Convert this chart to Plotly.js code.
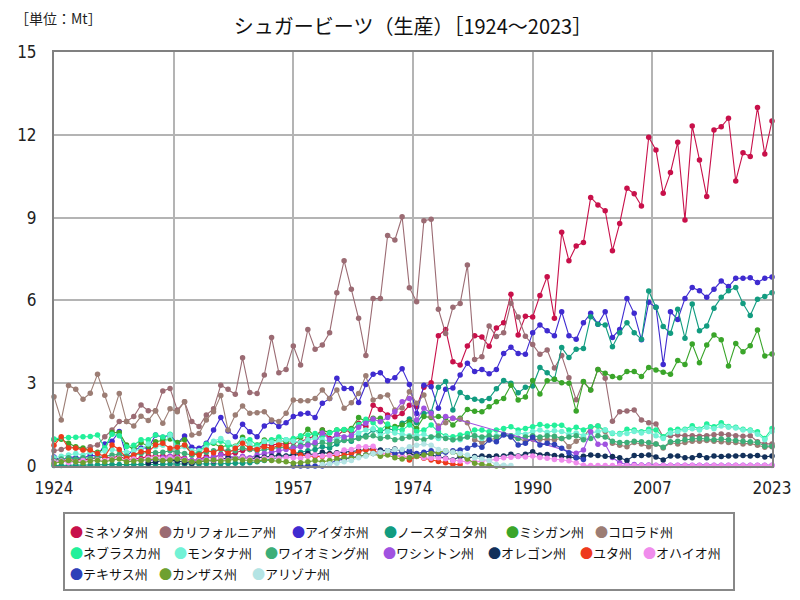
<!DOCTYPE html>
<html><head><meta charset="utf-8">
<script src="https://cdn.plot.ly/plotly-3.0.1.min.js"></script>
<style>html,body{margin:0;padding:0;background:#fff}#chart{width:800px;height:600px}</style>
</head><body><div id="chart"></div>
<script>
// ---------- data (Mt) ----------
const startYear = 1924, endYear = 2023;
const years = []; for (let y = startYear; y <= endYear; y++) years.push(y);
const N = null;

const minnesota = [
0.25,0.22,0.20,0.24,0.22,0.25,0.30,0.32,0.28,0.38,
0.22,0.27,0.27,0.36,0.36,0.36,0.34,0.36,0.28,0.19,
0.24,0.34,0.28,0.43,0.40,0.48,0.56,0.60,0.64,0.76,
0.76,0.80,0.80,0.85,0.88,1.00,1.09,1.30,1.00,1.09,
1.30,1.24,1.55,1.43,2.20,2.05,1.85,1.78,1.90,2.20,
2.15,2.85,3.02,4.72,4.95,3.78,3.66,4.35,4.72,4.67,
4.34,5.00,5.19,6.22,4.75,5.43,5.40,6.18,6.86,5.35,
8.47,7.44,7.97,8.10,9.73,9.46,9.25,7.80,8.79,10.06,
9.86,9.42,11.91,11.45,9.88,10.63,11.73,8.91,12.32,11.09,
9.76,12.17,12.29,12.60,10.33,11.35,11.21,12.99,11.30,12.50];

const california = [
0.55,0.60,0.70,0.65,0.60,0.70,0.76,1.06,1.30,1.61,
1.61,1.79,2.21,2.00,2.00,2.72,2.81,2.03,2.33,1.61,
1.43,1.85,2.07,2.93,2.78,2.60,3.92,2.66,2.63,3.30,
4.66,3.38,3.50,4.35,3.66,4.95,4.23,4.38,4.83,6.28,
7.44,6.40,5.35,4.00,6.07,6.07,8.35,8.19,9.03,6.46,
5.95,8.89,8.94,5.68,4.80,5.75,5.89,7.28,3.86,3.96,
5.07,4.69,4.83,5.90,5.40,4.70,4.40,4.05,4.20,3.55,
4.00,3.20,2.40,3.05,2.75,3.50,3.18,1.62,1.97,1.99,
2.03,1.67,1.57,1.52,1.05,1.10,1.12,1.10,1.10,1.08,
1.10,1.13,1.16,1.13,1.10,1.08,1.10,0.88,0.80,0.80];

const idaho = [
0.33,0.20,0.33,0.30,0.28,0.40,0.35,0.80,0.90,1.25,
0.35,0.60,0.65,0.65,1.12,1.04,1.12,0.82,1.09,0.68,
0.64,0.82,1.30,1.76,1.27,1.06,1.51,1.24,1.06,1.45,
1.61,1.43,1.57,1.79,1.88,1.91,1.76,2.27,2.45,3.18,
2.81,2.81,2.30,2.95,3.32,3.38,3.09,3.20,3.52,2.95,
1.90,2.93,2.87,2.09,2.78,2.83,3.30,3.72,3.42,3.50,
3.34,3.50,4.08,4.30,4.08,4.05,4.83,5.11,4.90,4.72,
5.59,4.72,4.59,5.19,5.53,5.14,5.59,4.66,4.95,6.07,
5.53,4.57,5.93,5.75,3.68,5.59,5.31,6.07,6.47,6.35,
6.11,6.40,6.70,6.50,6.80,6.80,6.82,6.65,6.80,6.85];

const northDakota = [
0.02,0.02,0.03,0.03,0.03,0.04,0.04,0.05,0.05,0.05,
0.04,0.05,0.05,0.06,0.06,0.06,0.07,0.07,0.06,0.06,
0.07,0.08,0.08,0.08,0.09,0.10,0.10,0.12,0.15,0.20,
0.25,0.30,0.35,0.45,0.50,0.55,0.60,0.70,0.65,0.80,
0.95,0.90,1.05,1.10,1.30,1.25,1.35,1.30,1.55,1.70,
1.57,1.90,1.95,2.85,3.06,2.03,2.66,2.48,2.42,2.36,
2.45,2.80,3.10,3.00,2.65,2.85,2.90,3.57,3.38,3.14,
4.29,3.93,4.23,4.26,5.41,5.14,5.11,4.32,4.83,5.19,
4.83,4.59,6.34,5.75,5.05,4.81,5.68,4.63,5.87,4.90,
5.07,5.72,6.11,6.35,6.47,5.89,5.45,6.04,6.14,6.28];

const michigan = [
0.95,0.97,0.82,0.70,0.65,0.55,0.50,0.62,1.21,1.21,
0.76,0.60,0.85,0.72,0.88,0.94,0.98,0.85,0.95,0.40,
0.46,0.76,0.82,0.68,0.76,0.72,1.04,0.70,0.76,0.94,
0.92,0.94,0.88,0.94,1.04,1.33,1.06,1.30,1.21,1.30,
1.30,1.36,1.76,1.61,1.73,1.73,1.43,1.43,1.49,1.61,
1.36,1.79,1.76,1.79,1.75,1.49,1.73,2.05,1.98,1.97,
2.15,2.33,2.45,2.93,2.39,2.50,3.10,2.61,3.09,3.14,
3.02,3.00,1.99,3.06,2.75,3.50,3.36,3.24,3.20,3.42,
3.42,3.24,3.57,3.48,3.40,3.32,3.82,3.68,4.42,3.74,
4.38,4.75,4.57,3.62,4.44,4.14,4.36,4.93,3.99,4.06];

const colorado = [
2.51,1.67,2.92,2.78,2.42,2.64,3.32,2.56,1.79,2.63,
1.61,1.45,1.80,1.65,2.00,1.55,2.07,1.97,2.33,1.12,
1.18,1.67,1.97,2.55,1.30,1.85,2.17,1.91,1.93,1.97,
1.67,1.61,1.91,2.39,2.36,2.36,2.45,2.75,2.45,2.75,
2.09,2.29,2.63,3.27,2.39,2.51,2.57,2.03,2.10,2.69,
2.27,2.57,1.79,1.45,1.57,1.73,1.69,1.57,0.95,0.85,
0.95,1.00,1.15,1.05,1.00,0.90,0.97,0.97,0.95,0.95,
1.00,0.70,0.90,1.04,1.40,1.45,1.25,0.82,0.75,0.70,
0.85,0.80,0.70,0.80,0.65,0.85,0.80,0.85,0.90,0.90,
0.92,0.90,0.88,0.85,0.85,0.80,0.82,0.75,0.68,0.70];

const nebraska = [
0.98,1.02,1.03,1.04,1.06,1.07,1.12,0.65,1.15,1.10,
0.70,0.75,0.95,0.95,1.12,1.05,1.15,0.70,0.75,0.45,
0.50,0.80,0.85,0.90,0.75,0.68,0.95,0.95,0.75,0.88,
0.95,1.05,0.95,1.00,1.10,1.12,1.18,1.10,1.20,1.30,
1.32,1.30,1.50,1.69,1.57,1.30,1.52,1.36,1.30,1.49,
1.25,1.30,1.49,1.24,1.09,1.06,1.12,1.18,1.30,1.30,
1.24,1.30,1.36,1.42,1.30,1.36,1.42,1.50,1.45,1.48,
1.48,1.30,1.40,1.30,1.42,1.45,1.30,1.18,1.18,1.33,
1.30,1.24,1.33,1.30,1.06,1.30,1.33,1.33,1.46,1.33,
1.52,1.42,1.57,1.43,1.40,1.33,1.30,1.24,1.00,1.36];

const montana = [
0.30,0.35,0.40,0.45,0.40,0.50,0.45,0.55,0.60,0.55,
0.50,0.55,0.60,0.80,0.70,0.75,1.12,0.60,0.70,0.55,
0.55,0.65,0.90,1.00,0.85,0.70,0.95,0.80,0.65,0.90,
0.85,0.90,0.95,0.90,0.85,0.95,1.00,0.95,0.90,1.00,
1.05,1.10,1.20,1.30,1.35,1.10,1.25,1.20,1.15,1.10,
1.10,1.15,1.05,1.00,1.05,0.95,0.95,1.05,1.10,1.00,
1.05,1.10,1.15,1.10,1.20,1.15,1.25,1.30,1.22,1.28,
1.25,1.15,1.20,1.10,1.20,1.25,1.30,1.20,1.15,1.18,
1.25,1.20,1.25,1.10,1.00,1.20,1.25,1.30,1.35,1.30,
1.40,1.35,1.45,1.40,1.38,1.30,1.28,1.15,0.95,1.25];

const wyoming = [
0.20,0.25,0.30,0.25,0.30,0.28,0.30,0.35,0.40,0.42,
0.35,0.40,0.45,0.50,0.48,0.50,0.55,0.50,0.45,0.40,
0.45,0.50,0.55,0.60,0.55,0.55,0.65,0.60,0.55,0.60,
0.62,0.68,0.65,0.70,0.75,0.80,0.78,0.85,0.80,0.90,
0.92,0.95,1.00,1.05,1.10,1.00,1.05,0.95,1.00,1.05,
1.00,0.95,1.05,1.10,1.00,0.95,1.00,1.05,1.10,1.05,
1.10,1.05,1.15,1.10,1.00,1.05,1.10,1.05,1.10,1.08,
1.00,1.05,1.10,0.95,1.00,1.10,1.05,0.90,0.85,0.85,
0.90,0.88,0.85,0.80,0.68,0.88,0.90,0.95,0.98,1.00,
0.98,0.95,0.98,0.95,0.92,0.90,0.88,0.85,0.72,0.72];

const washington = [
N,N,N,N,N,N,N,N,N,N,
N,N,N,0.15,0.25,0.30,0.35,0.30,0.25,0.20,
0.22,0.28,0.35,0.40,0.38,0.30,0.35,0.30,0.40,0.45,
0.50,0.55,0.60,0.65,0.70,0.75,0.85,1.20,0.95,1.15,
1.05,1.10,1.40,1.55,1.70,1.60,1.76,1.97,2.33,2.45,
1.67,2.09,1.91,1.36,1.79,1.73,N,N,N,N,
N,N,N,N,N,N,N,N,N,N,
N,N,0.46,0.58,1.24,0.79,0.79,0.31,0.12,0.05,
0.05,0.04,0.04,0.03,0.03,0.03,0.03,0.03,0.03,0.03,
0.03,0.03,0.03,0.03,0.03,0.03,0.03,0.03,0.03,0.03];

const oregon = [
N,N,N,N,N,N,N,N,N,N,
N,N,N,0.10,0.15,0.20,0.22,0.18,0.12,0.10,
0.15,0.20,0.18,0.25,0.30,0.28,0.30,0.25,0.30,0.32,
0.35,0.38,0.36,0.40,0.42,0.45,0.40,0.50,0.45,0.48,
0.50,0.52,0.55,0.60,0.62,0.58,0.55,0.62,0.55,0.45,
0.36,0.46,0.40,0.36,0.28,0.22,0.34,0.28,0.34,0.36,
0.34,0.36,0.36,0.43,0.36,0.43,0.52,0.40,0.42,0.38,
0.36,0.33,0.30,0.35,0.40,0.38,0.35,0.34,0.30,0.20,
0.38,0.38,0.40,0.33,0.22,0.36,0.36,0.30,0.30,0.38,
0.30,0.36,0.34,0.36,0.36,0.38,0.36,0.38,0.33,0.36];

const utah = [
0.75,1.06,0.65,0.65,0.58,0.58,0.45,0.34,0.76,0.60,
0.28,0.40,0.52,0.52,0.76,0.82,0.64,0.68,0.76,0.46,
0.40,0.58,0.48,0.64,0.46,0.64,0.82,0.64,0.60,0.70,
0.64,0.76,0.70,0.52,0.40,0.36,0.34,0.34,0.40,0.36,
0.40,0.44,0.52,0.58,0.58,0.43,0.46,0.40,0.34,0.22,
0.34,0.28,0.22,0.16,0.12,0.06,0.05,N,N,N,
N,N,N,N,N,N,N,N,N,N,
N,N,N,N,N,N,N,N,N,N,
N,N,N,N,N,N,N,N,N,N,
N,N,N,N,N,N,N,N,N,N];

const ohio = [
0.15,0.18,0.12,0.15,0.20,0.18,0.22,0.20,0.25,0.28,
0.18,0.25,0.22,0.28,0.30,0.25,0.30,0.28,0.22,0.15,
0.18,0.22,0.20,0.25,0.22,0.28,0.30,0.25,0.22,0.28,
0.30,0.28,0.32,0.30,0.28,0.36,0.40,0.36,0.38,0.45,
0.58,0.60,0.70,0.70,0.72,0.48,0.43,0.42,0.34,0.34,
0.36,0.30,0.28,0.30,0.26,0.20,0.18,0.15,0.15,0.18,
0.20,0.25,0.30,0.32,0.34,0.33,0.36,0.31,0.28,0.24,
0.22,0.19,0.12,0.03,0.02,0.02,0.02,0.02,0.02,0.02,
0.02,0.02,0.02,0.02,0.02,0.02,0.02,0.02,0.02,0.02,
0.02,0.02,0.02,0.02,0.02,0.02,0.02,0.02,0.02,0.02];

const texas = [
N,N,N,N,N,N,N,N,N,N,
N,N,N,N,N,N,N,N,N,N,
N,N,N,N,N,N,N,N,N,N,
N,N,N,0,0,0,0,0,0.10,0.20,
0.25,0.30,0.35,0.40,0.45,0.50,0.55,0.45,0.50,0.55,
0.45,0.50,0.55,0.45,0.50,0.55,0.58,0.64,0.76,0.68,
0.94,0.88,1.12,1.06,0.76,0.82,1.04,0.76,0.82,0.78,
0.64,0.48,0.30,0.24,N,N,N,N,N,N,
N,N,N,N,N,N,N,N,N,N,
N,N,N,N,N,N,N,N,N,N];

const kansas = [
0.10,0.15,0.20,0.15,0.12,0.18,0.20,0.15,0.22,0.25,
0.15,0.18,0.20,0.22,0.25,0.20,0.22,0.25,0.20,0.15,
0.15,0.20,0.22,0.18,0.20,0.25,0.22,0.20,0.18,0.22,
0.20,0.18,0.15,0.10,0.12,0.15,0.20,0.15,0.20,0.25,
0.30,0.28,0.35,0.40,0.45,0.35,0.40,0.30,0.25,0.30,
0.35,0.40,0.45,0.50,0.55,0.50,0.40,0.25,0.10,0.05,
0.02,0,0,N,N,N,N,N,N,N,
N,N,N,N,N,N,N,N,N,N,
N,N,N,N,N,N,N,N,N,N,
N,N,N,N,N,N,N,N,N,N];

const arizona = [
N,N,N,N,N,N,N,N,N,N,
N,N,N,N,N,N,N,N,N,N,
N,N,N,N,N,N,N,N,N,N,
N,N,N,N,N,N,N,0.05,0.08,0.10,
0.15,0.20,0.30,0.35,0.45,0.50,0.55,0.60,0.60,0.70,
0.75,0.80,0.75,0.60,0.55,0.50,0.45,0.40,0.30,0.25,
0.20,0.05,0.03,0.02,N,N,N,N,N,N,
N,N,N,N,N,N,N,N,N,N,
N,N,N,N,N,N,N,N,N,N,
N,N,N,N,N,N,N,N,N,N];

const stateNames = ['ミネソタ州','カリフォルニア州','アイダホ州','ノースダコタ州','ミシガン州','コロラド州',
  'ネブラスカ州','モンタナ州','ワイオミング州','ワシントン州','オレゴン州','ユタ州','オハイオ州',
  'テキサス州','カンザス州','アリゾナ州'];
const stateSeries = [minnesota,california,idaho,northDakota,michigan,colorado,
  nebraska,montana,wyoming,washington,oregon,utah,ohio,texas,kansas,arizona];
const xTickVals = [1924,1940.5,1957,1973.5,1990,2006.5,2023];
const xTickText = ['1924','1941','1957','1974','1990','2007','2023'];
const yTickVals = [0,3,6,9,12,15];
const titleText = 'シュガービーツ（生産）［1924～2023］';
const unitText = '［単位：Mt］';

// ---------- styles ----------
const colors = ['#C8104A','#9B6B73','#3F2BD0','#129C80','#3AA52A','#9C7D74',
  '#22F09A','#72F2D6','#3CAE78','#A052E0','#12305A','#EE3A1C','#F08CEC',
  '#2F40B8','#6EA030','#B4E4E4'];
const FONT = '"Noto Sans CJK JP", "Noto Sans", sans-serif';
const NUMFONT = '"Liberation Sans Narrow", "DejaVu Sans Condensed", "Noto Sans CJK JP", sans-serif';

const traces = stateSeries.map((ys, k) => ({
  type: 'scatter', mode: 'lines+markers', name: stateNames[k],
  x: years, y: ys, connectgaps: k === 9,
  line: {color: colors[k], width: 1.1},
  marker: {color: colors[k], size: 5.5},
  cliponaxis: false, showlegend: false, hoverinfo: 'x+y+name'
}));

// plot area in px
const L = 54, R = 772, T = 52, B = 466;
const px = p => (p - L) / (R - L);
const py = p => (B - p) / (B - T);

// legend layout (rows of item indices and dot-centre x positions, px)
const legendRows = [[0,1,2,3,4,5],[6,7,8,9,10,11,12],[13,14,15]];
const legendX = [[74,163,296,388,510,599],[74,178,269,387,492,584,647],[74,163,256]];
const legendY = [531,552,573];
const annotations = [];
legendRows.forEach((row, r) => row.forEach((k, j) => {
  annotations.push({xref:'paper', yref:'paper', x: px(legendX[r][j]-6.5), y: py(legendY[r]),
    xanchor:'left', yanchor:'middle', showarrow:false,
    text: '<span style="color:'+colors[k]+'">●</span>'+stateNames[k],
    font:{family: FONT, size: 13, color:'#111'}});
}));
annotations.push({xref:'paper', yref:'paper', x: px(13), y: py(18), xanchor:'left', yanchor:'middle',
  showarrow:false, text: unitText, font:{family: FONT, size: 14, color:'#222'}});

const layout = {
  width: 800, height: 600,
  margin: {l: L, r: 800 - R, t: T, b: 600 - B},
  paper_bgcolor: '#fff', plot_bgcolor: '#fff',
  title: {text: titleText, font: {family: FONT, size: 20, color: '#111'},
    x: 0.5, xref: 'paper', xanchor: 'center', y: 1 - 27/600, yref: 'container', yanchor: 'middle'},
  showlegend: false,
  xaxis: {range: [1924, 2023], tickvals: xTickVals, ticktext: xTickText, showgrid: true,
    gridcolor: '#b4b4b4', gridwidth: 1.5, zeroline: false, showline: true, mirror: true,
    linecolor: '#808080', linewidth: 2, ticks: '', ticklabelstandoff: 6,
    tickfont: {family: NUMFONT, size: 17, color: '#222'}},
  yaxis: {range: [0, 15], tickvals: yTickVals, showgrid: true,
    gridcolor: '#b4b4b4', gridwidth: 1.5, zeroline: false, showline: true, mirror: true,
    linecolor: '#808080', linewidth: 2, ticks: '', ticklabelstandoff: 12,
    tickfont: {family: NUMFONT, size: 17, color: '#222'}},
  annotations: annotations,
  shapes: [{type:'rect', xref:'paper', yref:'paper', x0: px(64), x1: px(734), y0: py(513), y1: py(590),
    line:{color:'#888', width: 2}, fillcolor:'rgba(0,0,0,0)'}]
};

Plotly.newPlot('chart', traces, layout, {displayModeBar: false, responsive: false});
</script>
</body></html>
